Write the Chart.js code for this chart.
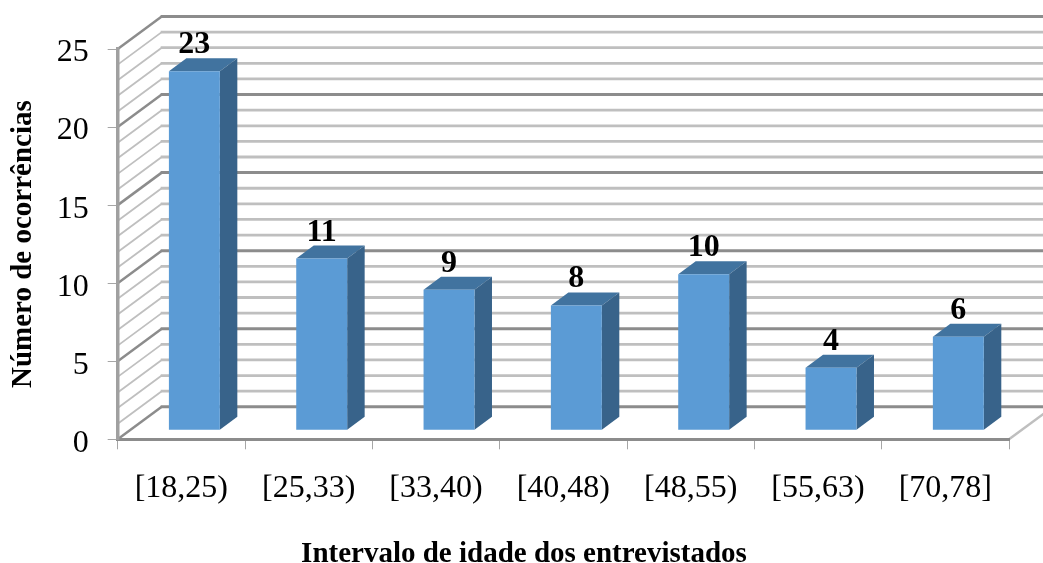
<!DOCTYPE html>
<html>
<head>
<meta charset="utf-8">
<title>Intervalo de idade</title>
<script src="https://cdn.jsdelivr.net/npm/chart.js@4"></script>
<style>
  html, body { margin: 0; padding: 0; background: #fff; }
  canvas { display: block; filter: blur(0.4px); }
</style>
</head>
<body>
<canvas id="chart" width="1043" height="563"></canvas>
<script>
const categories = ["[18,25)", "[25,33)", "[33,40)", "[40,48)", "[48,55)", "[55,63)", "[70,78]"];
const ocorrencias = [23, 11, 9, 8, 10, 4, 6];
const yTitle = "Número de ocorrências";
const xTitle = "Intervalo de idade dos entrevistados";

const serif = "'Liberation Serif', 'Times New Roman', serif";
const strongGrid = "#8c8c8c";
const softGrid = "#bfbfbf";

// depth of the fake 3D box, and of each bar inside it
const wallDx = 44, wallDy = -32.5;
const barDx = 17.5, barDy = -13;
const barShiftX = 13, barShiftY = -9;

const walls = {
    id: "walls",
    beforeDraw: function (chart) {
        const ctx = chart.ctx;
        const y = chart.scales.y;
        const a = chart.chartArea;
        ctx.save();
        y.ticks.forEach(function (t) {
            const py = y.getPixelForValue(t.value);
            const strong = t.value % 5 === 0;
            ctx.strokeStyle = strong ? strongGrid : softGrid;
            // side wall lines are thinner than the back wall ones
            ctx.lineWidth = strong ? 2.5 : 1.8;
            ctx.beginPath();
            ctx.moveTo(a.left, py);
            ctx.lineTo(a.left + wallDx, py + wallDy);
            ctx.stroke();
            ctx.lineWidth = strong ? 3 : 2.8;
            ctx.beginPath();
            ctx.moveTo(a.left + wallDx - 1, py + wallDy);
            ctx.lineTo(a.right + wallDx, py + wallDy);
            ctx.stroke();
        });
        // floor edge on the right
        ctx.strokeStyle = softGrid;
        ctx.lineWidth = 2.5;
        ctx.beginPath();
        ctx.moveTo(a.right, a.bottom);
        ctx.lineTo(a.right + wallDx, a.bottom + wallDy);
        ctx.stroke();
        ctx.restore();
    }
};

const bars3d = {
    id: "bars3d",
    beforeDatasetDraw: function (chart, args) {
        const ctx = chart.ctx;
        ctx.save();
        ctx.translate(barShiftX, barShiftY);
        args.meta.data.forEach(function (bar) {
            const l = bar.x - bar.width / 2, r = bar.x + bar.width / 2;
            ctx.fillStyle = "#41739f";
            ctx.beginPath();
            ctx.moveTo(l, bar.y);
            ctx.lineTo(l + barDx, bar.y + barDy);
            ctx.lineTo(r + barDx, bar.y + barDy);
            ctx.lineTo(r, bar.y);
            ctx.closePath();
            ctx.fill();
            ctx.fillStyle = "#38638a";
            ctx.beginPath();
            ctx.moveTo(r, bar.y);
            ctx.lineTo(r + barDx, bar.y + barDy);
            ctx.lineTo(r + barDx, bar.base + barDy);
            ctx.lineTo(r, bar.base);
            ctx.closePath();
            ctx.fill();
        });
    },
    afterDatasetDraw: function (chart, args) {
        const ctx = chart.ctx;
        ctx.restore();
        ctx.save();
        ctx.font = "bold 32px " + serif;
        ctx.fillStyle = "#000";
        ctx.textAlign = "center";
        ctx.textBaseline = "alphabetic";
        args.meta.data.forEach(function (bar, i) {
            ctx.fillText(ocorrencias[i], bar.x + barShiftX, bar.y + barShiftY + barDy - 5);
        });
        ctx.restore();
    },
    afterDraw: function (chart) {
        // the reference centres this title on the whole picture, not on the plot
        const ctx = chart.ctx;
        ctx.save();
        ctx.font = "bold 29px " + serif;
        ctx.fillStyle = "#000";
        ctx.textAlign = "center";
        ctx.textBaseline = "alphabetic";
        ctx.fillText(xTitle, 524, 562);
        ctx.restore();
    }
};

new Chart(document.getElementById("chart"), {
    type: "bar",
    data: {
        labels: categories,
        datasets: [{
            label: "Ocorrências",
            data: ocorrencias,
            backgroundColor: "#5b9bd5",
            barPercentage: 0.4,
            categoryPercentage: 1
        }]
    },
    options: {
        responsive: false,
        animation: false,
        layout: { padding: { top: 49, right: 34, left: 0, bottom: 0 } },
        plugins: { legend: { display: false }, tooltip: { enabled: false } },
        scales: {
            x: {
                afterFit: function (scale) { scale.height = 123.7; },
                grid: { drawOnChartArea: false, tickLength: 10, color: "#a6a6a6", lineWidth: 1 },
                border: { color: strongGrid, width: 3 },
                ticks: { color: "#000", font: { family: serif, size: 32 }, padding: 20, maxRotation: 0 }
            },
            y: {
                min: 0,
                max: 25,
                afterFit: function (scale) { scale.width = 117.7; },
                // the digits sit a little under the tick marks in the reference
                afterUpdate: function (scale) {
                    const drawLabels = Object.getPrototypeOf(scale).drawLabels;
                    scale.drawLabels = function (area) {
                        this.ctx.save();
                        this.ctx.translate(0, 4);
                        drawLabels.call(this, area);
                        this.ctx.restore();
                    };
                },
                grid: {
                    drawOnChartArea: false,
                    tickLength: 10,
                    color: function (c) { return c.tick.value % 5 === 0 ? "#a6a6a6" : "transparent"; },
                    lineWidth: 1
                },
                border: { color: "#a0a0a0", width: 3.5 },
                ticks: {
                    stepSize: 1,
                    autoSkip: false,
                    color: "#000",
                    font: { family: serif, size: 32 },
                    padding: 19,
                    callback: function (v) { return v % 5 === 0 ? v : ""; }
                },
                title: {
                    display: true,
                    text: yTitle,
                    color: "#000",
                    font: { family: serif, size: 29, weight: "bold" },
                    padding: { top: 6, bottom: 0 }
                }
            }
        }
    },
    plugins: [walls, bars3d]
});
</script>
</body>
</html>
